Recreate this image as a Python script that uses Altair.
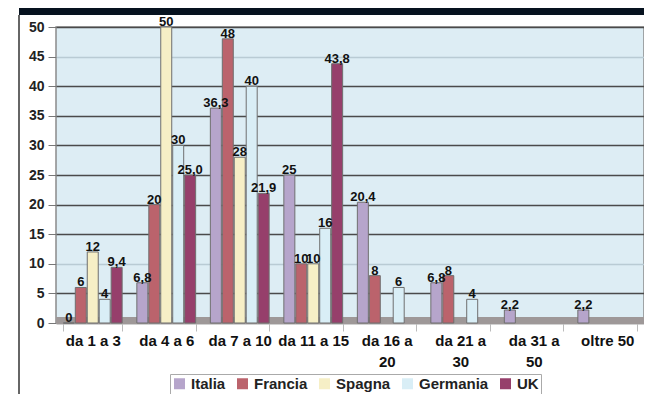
import altair as alt
import pandas as pd

categories = ["da 1 a 3", "da 4 a 6", "da 7 a 10", "da 11 a 15",
              "da 16 a 20", "da 21 a 30", "da 31 a 50", "oltre 50"]
series = ["Italia", "Francia", "Spagna", "Germania", "UK"]
colors = ["#b6a5cb", "#bb636c", "#f6efc6", "#d9eef6", "#963f6b"]

italia = [0, 6.8, 36.3, 25, 20.4, 6.8, 2.2, 2.2]
francia = [6, 20, 48, 10, 8, 8, None, None]
spagna = [12, 50, 28, 10, None, None, None, None]
germania = [4, 30, 40, 16, 6, 4, None, None]
uk = [9.4, 25.0, 21.9, 43.8, None, None, None, None]

italia_lbl = ["0", "6,8", "36,3", "25", "20,4", "6,8", "2,2", "2,2"]
francia_lbl = ["6", "20", "48", "10", "8", "8", "", ""]
spagna_lbl = ["12", "50", "28", "10", "", "", "", ""]
germania_lbl = ["4", "30", "40", "16", "6", "4", "", ""]
uk_lbl = ["9,4", "25,0", "21,9", "43,8", "", "", "", ""]

y_ticks = [0, 5, 10, 15, 20, 25, 30, 35, 40, 45, 50]

rows = []
for s, vals, lbls in zip(series,
                         [italia, francia, spagna, germania, uk],
                         [italia_lbl, francia_lbl, spagna_lbl, germania_lbl, uk_lbl]):
    for c, v, l in zip(categories, vals, lbls):
        if v is not None:
            rows.append({"cat": c, "serie": s, "val": v, "lbl": l})
df = pd.DataFrame(rows)

W, H = 588, 296
FONT = "Liberation Sans"

x_enc = alt.X("cat:N", sort=categories,
              scale=alt.Scale(paddingInner=0.2, paddingOuter=0.1),
              axis=alt.Axis(title=None, labelAngle=0, labelFont=FONT,
                            labelFontSize=15, labelFontWeight="bold",
                            labelColor="#111", labelPadding=2,
                            labelExpr="datum.label == 'da 16 a 20' ? ['da 16 a', '20'] : datum.label == 'da 21 a 30' ? ['da 21 a', '30'] : datum.label == 'da 31 a 50' ? ['da 31 a', '50'] : datum.label",
                            labelLineHeight=21, labelOverlap=False,
                            domain=False, ticks=True, tickColor="#bbb",
                            tickSize=8, tickBand="extent", grid=False))
xo = alt.XOffset("serie:N", sort=series,
                 scale=alt.Scale(domain=series, paddingInner=0.08))
y_enc = alt.Y("val:Q", scale=alt.Scale(domain=[0, 50], nice=False),
              axis=alt.Axis(title=None, values=y_ticks, labelOverlap=False,
                            labelFont=FONT, labelFontSize=14, labelFontWeight="bold",
                            labelColor="#222", labelPadding=4,
                            domain=False, tickColor="#777", tickSize=8,
                            gridColor={"expr": "datum.value == 10 || datum.value == 45 ? '#b9cbd4' : '#4a4a4a'"},
                            gridWidth=1.3))

floor = alt.Chart(pd.DataFrame({"a": [0]})).mark_rect(color="#9e9898").encode(
    x=alt.value(0), x2=alt.value(W), y=alt.value(H - 6), y2=alt.value(H + 1))

bars = alt.Chart(df).mark_bar(stroke="#6f6f6f", strokeWidth=1).encode(
    x=x_enc, xOffset=xo, y=y_enc,
    color=alt.Color("serie:N", sort=series,
                    scale=alt.Scale(domain=series, range=colors),
                    legend=alt.Legend(title=None, orient="none", direction="horizontal",
                                      legendX=114, legendY=347,
                                      labelFont=FONT, labelFontSize=15,
                                      labelFontWeight="bold", labelColor="#222",
                                      symbolType="square", symbolSize=121,
                                      symbolStrokeWidth=0, columnPadding=9,
                                      labelOffset=4,
                                      strokeColor="#aaa", padding=2)))

text = alt.Chart(df).mark_text(baseline="middle", dy=-5, font=FONT, fontSize=13,
                               fontWeight="bold", color="#111").encode(
    x=x_enc, xOffset=xo, y=y_enc, text="lbl:N")

header = alt.Chart(pd.DataFrame({"a": [0]})).mark_rect(color="#06121f").encode(
    x=alt.value(-37), x2=alt.value(W + 10), y=alt.value(-19), y2=alt.value(-12))

leftline = alt.Chart(pd.DataFrame({"a": [0]})).mark_rule(color="#333", strokeWidth=1.5).encode(
    x=alt.value(-37), y=alt.value(-12), y2=alt.value(H + 90))

chart = alt.layer(floor, bars, text, header, leftline).properties(
    width=W, height=H,
    background="white",
    padding={"left": 48, "top": 19, "right": 0, "bottom": 71},
    autosize=alt.AutoSizeParams(type="none"),
).configure_view(fill="#ddedf4", stroke="#8a8a8a", strokeWidth=1.5)

chart.save("out.html", embed_options={"renderer": "svg", "actions": False})
